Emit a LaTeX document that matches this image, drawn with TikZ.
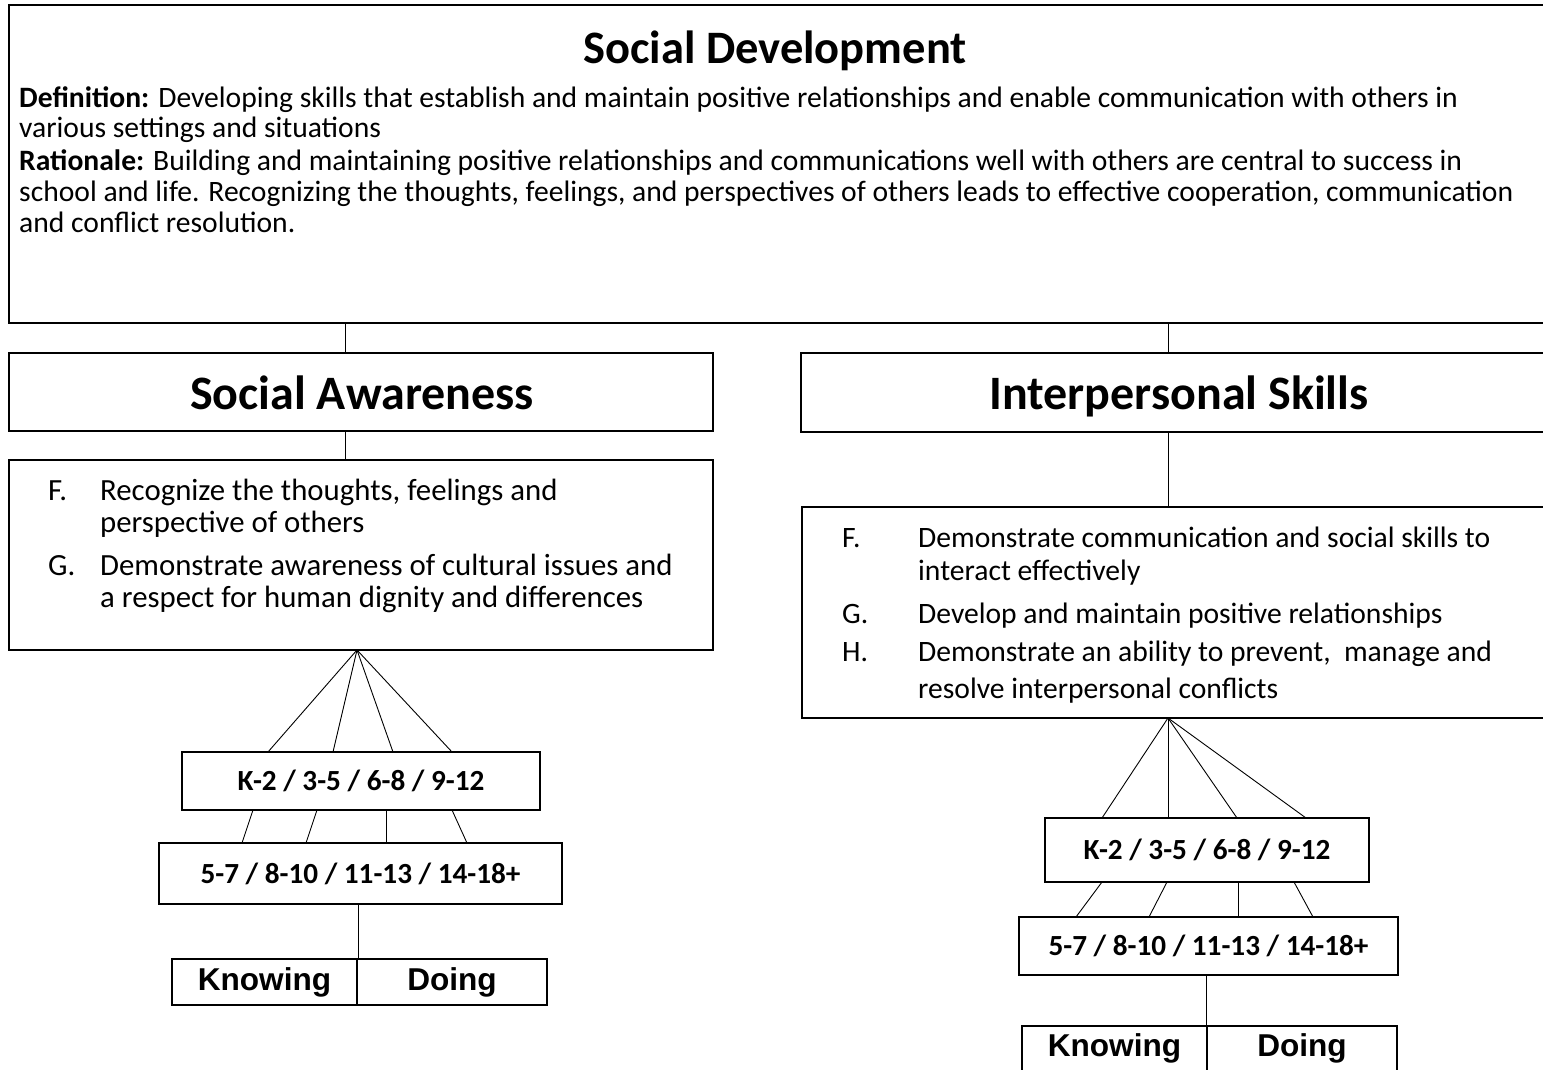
\documentclass[tikz,border=0pt]{standalone}
\usepackage{fontspec}
\setmainfont{Carlito}
\newfontfamily\arialfont{Liberation Sans}
\begin{document}
\begin{tikzpicture}[x=1pt,y=-1pt,
  box/.style={draw, line width=1.4pt, rectangle, inner sep=0pt, outer sep=0pt},
  conn/.style={line width=0.9pt},
  body/.style={anchor=base west, inner sep=0pt, font=\fontsize{29.6}{34}\selectfont},
  bodyl/.style={anchor=base west, inner sep=0pt, font=\fontsize{30.8}{35}\selectfont},
  ttl/.style={anchor=base, inner sep=0pt, font=\fontsize{48}{56}\selectfont\bfseries},
  grade/.style={inner sep=0pt, font=\fontsize{29.2}{34}\selectfont\bfseries},
  kd/.style={inner sep=0pt, font=\fontsize{31.6}{36}\selectfont\arialfont\bfseries}]
\useasboundingbox (0,0) rectangle (1543,1070);
\clip (0,0) rectangle (1543,1070);
% boxes
\node[box, anchor=north west, minimum width=1551pt, minimum height=318pt] (top) at (9,5) {};
\node[box, anchor=north west, minimum width=704pt, minimum height=78pt] (sa) at (9,353) {};
\node[box, anchor=north west, minimum width=759pt, minimum height=79pt] (isk) at (801,353) {};
\node[box, anchor=north west, minimum width=704pt, minimum height=190pt] (sal) at (9,460) {};
\node[box, anchor=north west, minimum width=758pt, minimum height=211pt] (isl) at (802,507) {};
\node[box, anchor=north west, minimum width=358pt, minimum height=58pt] (kl) at (182,752) {};
\node[box, anchor=north west, minimum width=403pt, minimum height=61pt] (al) at (159,843) {};
\node[box, anchor=north west, minimum width=185pt, minimum height=46pt] (knl) at (172,959) {};
\node[box, anchor=north west, minimum width=190pt, minimum height=46pt] (dol) at (357,959) {};
\node[box, anchor=north west, minimum width=324pt, minimum height=64pt] (kr) at (1045,818) {};
\node[box, anchor=north west, minimum width=379pt, minimum height=58pt] (ar) at (1019,917) {};
\node[box, anchor=north west, minimum width=185pt, minimum height=60pt] (knr) at (1022,1026) {};
\node[box, anchor=north west, minimum width=190pt, minimum height=60pt] (dor) at (1207,1026) {};
% titles
\node[ttl, font=\fontsize{46.5}{54}\selectfont\bfseries] (t1) at (775,64) {Social Development};
\node[ttl] (t2) at (362,409) {Social Awareness};
\node[ttl] (t3) at (1179,409) {Interpersonal Skills};
% definition text
\node[body] (d1) at (19,108) {\textbf{Definition:} Developing skills that establish and maintain positive relationships and enable communication with others in};
\node[body] (d2) at (19,138) {various settings and situations};
\node[body] (d3) at (19,171) {\textbf{Rationale:} Building and maintaining positive relationships and communications well with others are central to success in};
\node[body] (d4) at (19,201) {school and life. Recognizing the thoughts, feelings, and perspectives of others leads to effective cooperation, communication};
\node[body] (d5) at (19,232) {and conflict resolution.};
% left list
\node[bodyl] (lf) at (48,500) {F.};
\node[bodyl] (lf1) at (100,500) {Recognize the thoughts, feelings and};
\node[bodyl] (lf2) at (100,532) {perspective of others};
\node[bodyl] (lg) at (48,575) {G.};
\node[bodyl] (lg1) at (100,575) {Demonstrate awareness of cultural issues and};
\node[bodyl] (lg2) at (100,607) {a respect for human dignity and differences};
% right list
\node[body] (rf) at (842,547) {F.};
\node[body] (rf1) at (918,547) {Demonstrate communication and social skills to};
\node[body] (rf2) at (918,580) {interact effectively};
\node[body] (rg) at (842,623) {G.};
\node[body] (rg1) at (918,623) {Develop and maintain positive relationships};
\node[body] (rh) at (842,661) {H.};
\node[body] (rh1) at (918,661) {Demonstrate an ability to prevent,\ \ manage and};
\node[body] (rh2) at (918,698) {resolve interpersonal conflicts};
% grade texts
\node[grade] at (kl.center) {K-2 / 3-5 / 6-8 / 9-12};
\node[grade] at (al.center) {5-7 / 8-10 / 11-13 / 14-18+};
\node[grade] at (kr.center) {K-2 / 3-5 / 6-8 / 9-12};
\node[grade] at (ar.center) {5-7 / 8-10 / 11-13 / 14-18+};
\node[kd] at (knl.center) {Knowing};
\node[kd] at (dol.center) {Doing};
\node[kd] at ([yshift=8pt]knr.center) {Knowing};
\node[kd] at ([yshift=8pt]dor.center) {Doing};
% connectors left
\coordinate (apl) at (357,650);
\draw[conn] (345,0 |- top.south) -- (345,0 |- sa.north);
\draw[conn] (345,0 |- sa.south) -- (345,0 |- sal.north);
\draw[conn] (apl) -- (268,0 |- kl.north);
\draw[conn] (apl) -- (333,0 |- kl.north);
\draw[conn] (apl) -- (393,0 |- kl.north);
\draw[conn] (apl) -- (452,0 |- kl.north);
\draw[conn] (253,0 |- kl.south) -- (242,0 |- al.north);
\draw[conn] (317,0 |- kl.south) -- (306,0 |- al.north);
\draw[conn] (386,0 |- kl.south) -- (386,0 |- al.north);
\draw[conn] (452,0 |- kl.south) -- (467,0 |- al.north);
\draw[conn] (358,0 |- al.south) -- (358,0 |- knl.north);
% connectors right
\coordinate (apr) at (1168,718);
\draw[conn] (1168,0 |- top.south) -- (1168,0 |- isk.north);
\draw[conn] (1168,0 |- isk.south) -- (1168,0 |- isl.north);
\draw[conn] (apr) -- (1102,0 |- kr.north);
\draw[conn] (apr) -- (1168,0 |- kr.north);
\draw[conn] (apr) -- (1237,0 |- kr.north);
\draw[conn] (apr) -- (1306,0 |- kr.north);
\draw[conn] (1102,0 |- kr.south) -- (1076,0 |- ar.north);
\draw[conn] (1167,0 |- kr.south) -- (1149,0 |- ar.north);
\draw[conn] (1238,0 |- kr.south) -- (1238,0 |- ar.north);
\draw[conn] (1294,0 |- kr.south) -- (1313,0 |- ar.north);
\draw[conn] (1206,0 |- ar.south) -- (1206,0 |- knr.north);
\end{tikzpicture}
\end{document}
